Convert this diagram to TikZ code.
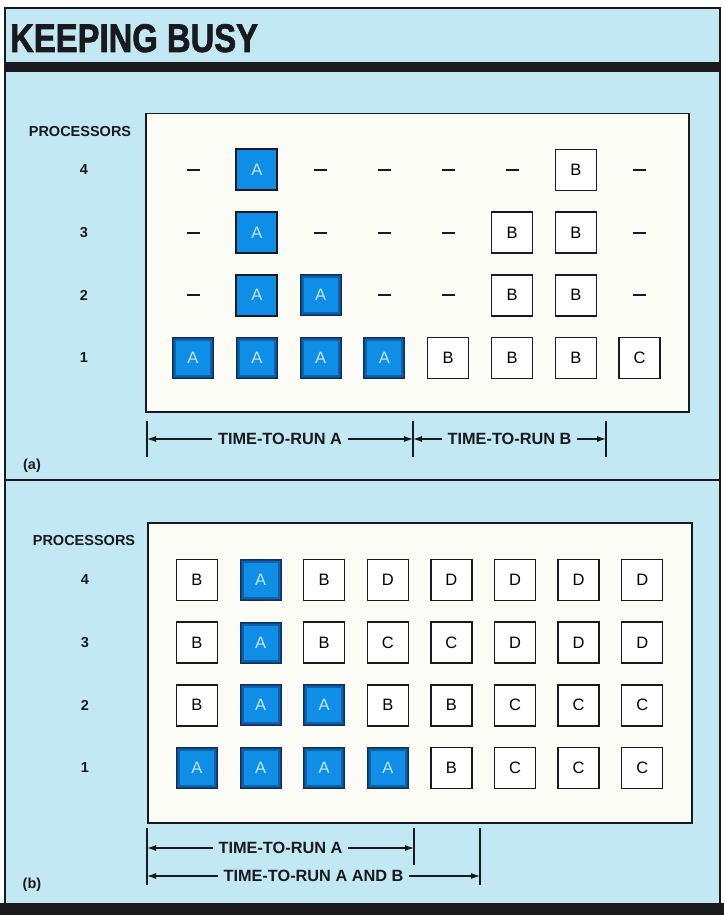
\documentclass[tikz,border=0pt]{standalone}
\usepackage{fontspec}
\setmainfont{Liberation Sans}
\newfontfamily\titlefont[FakeStretch=0.82,BoldFeatures={FakeBold=1.6}]{Liberation Sans}
\usetikzlibrary{arrows.meta}
\definecolor{bg}{RGB}{194,233,243}
\definecolor{paper}{RGB}{252,252,247}
\definecolor{abl}{RGB}{14,142,230}
\definecolor{navy}{RGB}{18,46,96}
\definecolor{atxt}{RGB}{200,230,250}
\definecolor{ink}{RGB}{25,25,30}
\begin{document}
\begin{tikzpicture}[x=1pt,y=-1pt,
  cell/.style={minimum width=41pt, minimum height=41pt, inner sep=0pt,
    font=\fontsize{16.5}{16.5}\selectfont},
  jobw/.style={cell, draw=ink, fill=white, line width=1.5pt},
  joba/.style={cell, fill=abl, text=atxt, draw=navy, line width=1pt,
    path picture={\draw[navy, line width=7pt, opacity=0.45]
      (path picture bounding box.south west) rectangle (path picture bounding box.north east);
      \draw[navy, line width=3pt, opacity=0.6]
      (path picture bounding box.south west) rectangle (path picture bounding box.north east);}},
  jobak/.style={cell, fill=abl, text=atxt, draw=ink, line width=2pt},
  idle/.style={minimum width=13pt, minimum height=2.2pt, inner sep=0pt, fill=ink},
  sidelab/.style={font=\bfseries\fontsize{14.5}{15}\selectfont, text=ink, inner sep=0pt},
  dimlab/.style={font=\bfseries\fontsize{16.3}{17}\selectfont, text=ink, fill=bg, inner xsep=6pt, inner ysep=1pt},
  dimline/.style={line width=1.1pt, draw=ink, {Latex[length=9pt,width=6pt]}-{Latex[length=9pt,width=6pt]}},
  tick/.style={line width=1.3pt, draw=ink},
  panel/.style={fill=paper, draw=ink, line width=1.5pt}
]
\useasboundingbox (0,0) rectangle (724,915);
% background and frame
\fill[white] (0,0) rectangle (724,915);
\fill[bg] (5,8) rectangle (720,903);
\draw[ink, line width=1.6pt] (5,903) -- (5,8) -- (720,8) -- (720,903);
\fill[ink] (5,62) rectangle (720,72);
\draw[ink, line width=2pt] (5,480) -- (720,480);
\fill[ink] (0,903) rectangle (724,915);
% title
\node[anchor=base west, inner sep=0pt, font=\titlefont\bfseries\fontsize{40}{40}\selectfont, text=ink] (title) at (10,52) {KEEPING BUSY};

% ===== panel (a) =====
\node[panel, anchor=north west, minimum width=543pt, minimum height=298pt, inner sep=0pt] (pa) at (145,113) {};
\node[sidelab] (pa-proc) at (80,132) {PROCESSORS};
\foreach \r/\y in {4/170,3/233,2/295,1/358}
  \node[sidelab] (pa-n\r) at (84,\y) {\r};
% idle dashes
\foreach \c/\r in {1/4,3/4,4/4,5/4,6/4,8/4, 1/3,3/3,4/3,5/3,8/3, 1/2,4/2,5/2,8/2}
  \node[idle] (a-\r-\c) at ({193+63.8*(\c-1)},{358-62.7*(\r-1)}) {};
% A jobs with black border
\foreach \r in {4,3,2}
  \node[jobak] (a-\r-2) at ({193+63.8},{358-62.7*(\r-1)}) {A};
% A jobs
\foreach \c/\r in {3/2,1/1,2/1,3/1,4/1}
  \node[joba] (a-\r-\c) at ({193+63.8*(\c-1)},{358-62.7*(\r-1)}) {A};
% white jobs
\foreach \c/\r/\t in {7/4/B, 6/3/B,7/3/B, 6/2/B,7/2/B, 5/1/B,6/1/B,7/1/B,8/1/C}
  \node[jobw] (a-\r-\c) at ({193+63.8*(\c-1)},{358-62.7*(\r-1)}) {\t};
% dimensions (a)
\coordinate (da1t) at (147,421); \coordinate (da1b) at (147,457);
\coordinate (da2t) at (413,421); \coordinate (da2b) at (413,457);
\coordinate (da3t) at (606,421); \coordinate (da3b) at (606,457);
\draw[tick] (da1t) -- (da1b);
\draw[tick] (da2t) -- (da2b);
\draw[tick] (da3t) -- (da3b);
\coordinate (da1) at (147,439); \coordinate (da2) at (413,439); \coordinate (da3) at (606,439);
\draw[dimline] (da1) -- node[dimlab] (ta) {TIME-TO-RUN A} (da2);
\draw[dimline] (da2) -- node[dimlab] (tb) {TIME-TO-RUN B} (da3);
\node[sidelab] (la) at (32,466) {(a)};

% ===== panel (b) =====
\node[panel, anchor=north west, minimum width=544pt, minimum height=300pt, inner sep=0pt] (pb) at (147,522) {};
\node[sidelab] (pb-proc) at (84,541) {PROCESSORS};
\foreach \r/\y in {4/580,3/643,2/705,1/768}
  \node[sidelab] (pb-n\r) at (85,\y) {\r};
\foreach \c/\r in {2/4,2/3,2/2,3/2,1/1,2/1,3/1,4/1}
  \node[joba] (b-\r-\c) at ({197+63.6*(\c-1)},{768-62.7*(\r-1)}) {A};
\foreach \c/\r/\t in {1/4/B,3/4/B,4/4/D,5/4/D,6/4/D,7/4/D,8/4/D,
                      1/3/B,3/3/B,4/3/C,5/3/C,6/3/D,7/3/D,8/3/D,
                      1/2/B,4/2/B,5/2/B,6/2/C,7/2/C,8/2/C,
                      5/1/B,6/1/C,7/1/C,8/1/C}
  \node[jobw] (b-\r-\c) at ({197+63.6*(\c-1)},{768-62.7*(\r-1)}) {\t};
% dimensions (b)
\coordinate (db1t) at (147,828); \coordinate (db1b) at (147,885);
\coordinate (db2t) at (414,828); \coordinate (db2b) at (414,865);
\coordinate (db3t) at (480,828); \coordinate (db3b) at (480,885);
\draw[tick] (db1t) -- (db1b);
\draw[tick] (db2t) -- (db2b);
\draw[tick] (db3t) -- (db3b);
\coordinate (dba1) at (147,848); \coordinate (dba2) at (414,848);
\coordinate (dbb1) at (147,876); \coordinate (dbb2) at (480,876);
\draw[dimline] (dba1) -- node[dimlab] (tba) {TIME-TO-RUN A} (dba2);
\draw[dimline] (dbb1) -- node[dimlab] (tbb) {TIME-TO-RUN A AND B} (dbb2);
\node[sidelab] (lb) at (32,885) {(b)};
\end{tikzpicture}
\end{document}
